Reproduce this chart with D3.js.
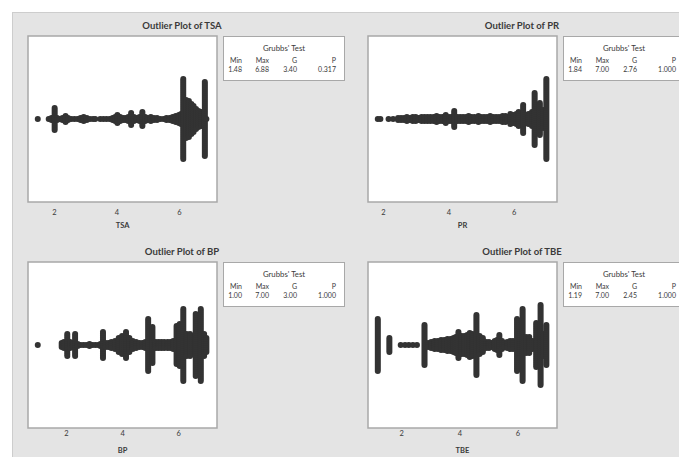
<!DOCTYPE html>
<html>
<head>
<meta charset="utf-8">
<script src="https://cdn.jsdelivr.net/npm/d3@7"></script>
<style>
  html, body { margin: 0; padding: 0; background: #ffffff; }
  svg { display: block; font-family: Lato, "Open Sans", sans-serif; }
</style>
</head>
<body>
<svg id="chart" width="679" height="457"></svg>
<script>
// Variables shown in the four outlier plots
const variables = ["TSA", "PR", "BP", "TBE"];

// Observed values (distinct scores) and how many responses share each score
const tsaValues = [1.48, 1.83, 1.92, 2.02, 2.10, 2.18, 2.27, 2.37, 2.45, 2.55, 2.65, 2.75, 2.85, 2.95, 3.05, 3.15, 3.25, 3.32,
  3.48, 3.58, 3.68, 3.78, 3.88, 3.96, 4.03, 4.12, 4.22, 4.30, 4.38, 4.47, 4.56, 4.65, 4.74, 4.83, 4.92, 5.00, 5.10, 5.20,
  5.30, 5.40, 5.50, 5.60, 5.70, 5.80, 5.90, 6.00, 6.07, 6.14, 6.23, 6.32, 6.40, 6.47, 6.55, 6.63, 6.72, 6.83, 6.88];
const tsaCounts = [1, 1, 2, 12, 2, 1, 2, 4, 2, 1, 1, 1, 2, 3, 2, 1, 1, 1,
  1, 1, 1, 1, 2, 3, 5, 3, 2, 2, 3, 7, 3, 2, 3, 8, 3, 2, 3, 2,
  2, 1, 1, 2, 2, 3, 4, 5, 6, 41, 20, 19, 16, 14, 11, 9, 8, 38, 1];

const prValues = [1.84, 1.92, 2.17, 2.31, 2.46, 2.55, 2.64, 2.73, 2.82, 2.91, 3.00, 3.09, 3.18, 3.27, 3.36, 3.45, 3.55,
  3.64, 3.73, 3.82, 3.92, 4.02, 4.10, 4.18, 4.27, 4.36, 4.45, 4.54, 4.62, 4.71, 4.80, 4.92, 5.00, 5.09, 5.18, 5.28, 5.37,
  5.46, 5.55, 5.66, 5.75, 5.82, 5.90, 6.00, 6.08, 6.15, 6.29, 6.45, 6.56, 6.64, 6.80, 6.90, 7.00];
const prCounts = [1, 1, 1, 1, 2, 2, 2, 3, 2, 3, 3, 2, 3, 3, 3, 3, 3,
  4, 3, 3, 5, 3, 3, 9, 3, 3, 3, 3, 4, 3, 3, 4, 3, 3, 3, 4, 3,
  3, 3, 4, 4, 3, 6, 5, 6, 8, 15, 6, 8, 27, 17, 10, 41];

const bpValues = [1.00, 1.85, 1.93, 2.05, 2.15, 2.25, 2.33, 2.42, 2.52, 2.62, 2.72, 2.84, 2.95, 3.05, 3.15, 3.23, 3.32,
  3.42, 3.52, 3.62, 3.75, 3.88, 4.00, 4.14, 4.26, 4.38, 4.50, 4.62, 4.73, 4.83, 4.93, 5.08, 5.20, 5.30, 5.40, 5.50, 5.62,
  5.72, 5.82, 5.94, 6.05, 6.18, 6.30, 6.42, 6.62, 6.80, 6.92, 7.00];
const bpCounts = [1, 3, 4, 12, 4, 3, 12, 2, 1, 1, 1, 2, 1, 1, 1, 2, 14,
  3, 3, 4, 5, 8, 10, 14, 8, 5, 4, 3, 3, 4, 27, 19, 4, 4, 4, 4, 4,
  4, 5, 20, 22, 37, 12, 12, 32, 37, 12, 8];

const tbeValues = [1.19, 1.59, 1.98, 2.13, 2.26, 2.40, 2.54, 2.80, 2.92, 3.03, 3.15, 3.26, 3.37, 3.48, 3.59, 3.70, 3.80,
  3.88, 3.97, 4.07, 4.17, 4.27, 4.36, 4.46, 4.59, 4.70, 4.81, 4.92, 5.02, 5.12, 5.22, 5.30, 5.38, 5.47, 5.55, 5.65, 5.75,
  5.85, 5.99, 6.09, 6.18, 6.30, 6.41, 6.52, 6.65, 6.80, 6.90, 7.00];
const tbeCounts = [27, 8, 1, 1, 1, 1, 1, 21, 3, 4, 5, 5, 6, 6, 7, 7, 8,
  9, 14, 10, 10, 11, 13, 12, 31, 10, 8, 4, 4, 3, 5, 6, 11, 5, 3, 4, 5,
  5, 27, 14, 37, 9, 9, 5, 23, 41, 12, 21];

// Grubbs' test results per variable
const grubbsMin = [1.48, 1.84, 1.00, 1.19];
const grubbsMax = [6.88, 7.00, 7.00, 7.00];
const grubbsG = [3.40, 2.76, 3.00, 2.45];
const grubbsP = [0.317, 1.000, 1.000, 1.000];

const tickLabels = [2, 4, 6];

const valueSets = [tsaValues, prValues, bpValues, tbeValues];
const countSets = [tsaCounts, prCounts, bpCounts, tbeCounts];

// ---- layout ----
const svg = d3.select("#chart");
const colLeft = [28, 368];
const rowTop = [36, 262];
const plotW = 189, plotH = 166;
const tickDy = [10, 5];
const axisTitleDy = [23, 22];
const dotR = 3, stackStep = 2;
const ink = "#333333";

// sheet background
svg.append("rect")
  .attr("x", 12.5).attr("y", 12.5)
  .attr("width", 700).attr("height", 500)
  .attr("fill", "#e4e4e4").attr("stroke", "#cdcdcd");

variables.forEach((name, i) => {
  const left = colLeft[i % 2];
  const top = rowTop[Math.floor(i / 2)];
  const row = Math.floor(i / 2);
  const values = valueSets[i], counts = countSets[i];
  const lo = d3.min(values), hi = d3.max(values), span = hi - lo;

  const x = d3.scaleLinear()
    .domain([lo - 0.058 * span, hi + 0.063 * span])
    .range([left, left + plotW]);
  const cy = top + plotH / 2;

  const g = svg.append("g");

  // plot title
  g.append("text")
    .attr("x", left + 154).attr("y", top - 10.5).attr("dy", "0.35em")
    .attr("text-anchor", "middle")
    .attr("font-size", 9.5).attr("font-weight", 700).attr("fill", "#3a3a3a")
    .text("Outlier Plot of " + name);

  // data region
  g.append("rect")
    .attr("x", left).attr("y", top).attr("width", plotW).attr("height", plotH)
    .attr("fill", "#ffffff").attr("stroke", "#a8a8a8").attr("stroke-width", 1.5);

  // symmetric stacks of dots, one stack per distinct value
  const dots = [];
  values.forEach((v, k) => {
    const n = counts[k];
    for (let j = 0; j < n; j++) {
      dots.push({ v: v, off: (j - (n - 1) / 2) * stackStep });
    }
  });
  g.append("g").selectAll("circle")
    .data(dots)
    .join("circle")
    .attr("cx", d => x(d.v))
    .attr("cy", d => cy + d.off)
    .attr("r", dotR)
    .attr("fill", ink);

  // x axis labels
  const axis = d3.axisBottom(x).tickValues(tickLabels).tickSize(0).tickPadding(0)
    .tickFormat(d3.format("d"));
  const ax = g.append("g")
    .attr("transform", `translate(0,${top + plotH + tickDy[row]})`)
    .call(axis);
  ax.select(".domain").remove();
  ax.selectAll("text")
    .attr("y", 0).attr("dy", "0.35em")
    .attr("font-family", "Lato, 'Open Sans', sans-serif")
    .attr("font-size", 7.5).attr("fill", "#3a3a3a");

  g.append("text")
    .attr("x", left + plotW / 2).attr("y", top + plotH + axisTitleDy[row]).attr("dy", "0.35em")
    .attr("text-anchor", "middle")
    .attr("font-size", 7.5).attr("font-weight", 700).attr("fill", "#3a3a3a")
    .text(name);

  // Grubbs' test table
  const L = left + 195, T = top;
  g.append("rect")
    .attr("x", L + 0.5).attr("y", T + 0.5).attr("width", 121).attr("height", 44)
    .attr("fill", "#ffffff").attr("stroke", "#a8a8a8");
  g.append("text")
    .attr("x", L + 61).attr("y", T + 12.3).attr("dy", "0.35em")
    .attr("text-anchor", "middle").attr("font-size", 7.8).attr("fill", "#3a3a3a")
    .text("Grubbs' Test");
  const colRight = [19, 46, 74, 113];
  const heads = ["Min", "Max", "G", "P"];
  const cells = [
    d3.format(".2f")(grubbsMin[i]),
    d3.format(".2f")(grubbsMax[i]),
    d3.format(".2f")(grubbsG[i]),
    d3.format(".3f")(grubbsP[i])
  ];
  heads.forEach((h, c) => {
    g.append("text")
      .attr("x", L + colRight[c]).attr("y", T + 24.8).attr("dy", "0.35em")
      .attr("text-anchor", "end").attr("font-size", 7).attr("fill", "#3a3a3a")
      .text(h);
    g.append("text")
      .attr("x", L + colRight[c]).attr("y", T + 33.4).attr("dy", "0.35em")
      .attr("text-anchor", "end").attr("font-size", 7).attr("fill", "#3a3a3a")
      .text(cells[c]);
  });
});
</script>
</body>
</html>
